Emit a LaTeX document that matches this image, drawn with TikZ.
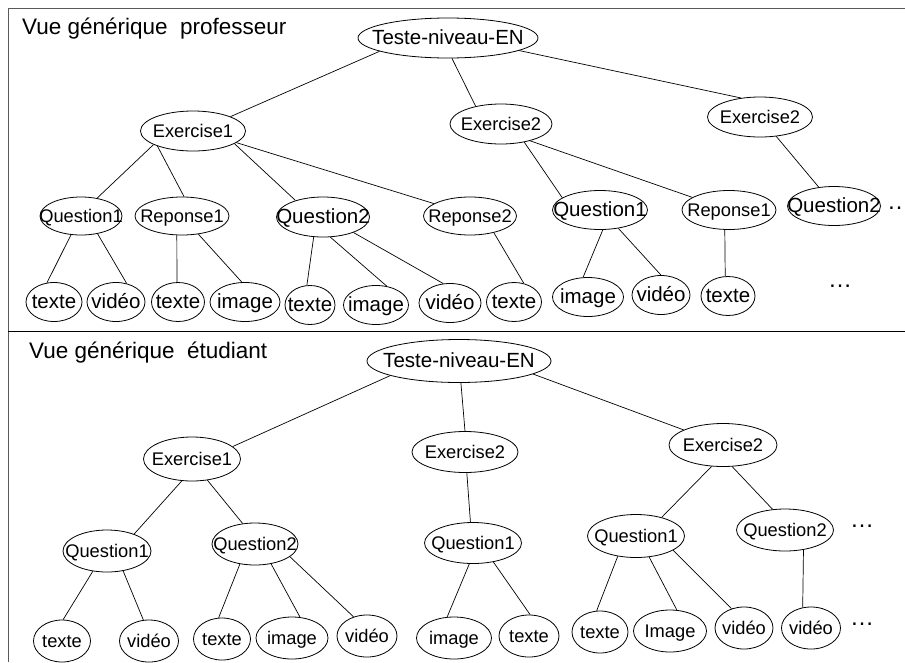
\documentclass[tikz,border=0pt]{standalone}
\usepackage{fontspec}
\setmainfont{Liberation Sans}
\usetikzlibrary{shapes.geometric}
\newcommand{\mot}[1]{\makebox[0pt]{#1}}

\begin{document}
\begin{tikzpicture}[x=1pt, y=-1pt,
    % Style pour les ellipses
    bulle/.style={
        ellipse, draw, line width=0.8pt,
        inner sep=0pt, minimum height=40,
        text height=13pt, text depth=0pt,
        font=\fontsize{18.3}{20}\selectfont
    },
    % Style pour les textes plus grands
    grand/.style={font=\fontsize{20.5}{22}\selectfont},
    % Style pour les titres des deux vues
    titre/.style={
        inner sep=0pt, anchor=base west,
        font=\fontsize{22.5}{27}\selectfont
    },
    % Style pour les points de suspension
    suite/.style={
        inner sep=0pt, anchor=base,
        font=\fontsize{24}{26}\selectfont
    },
    % Style pour les liens
    lien/.style={line width=0.7pt}
]
\useasboundingbox (0,0) rectangle (905,662);

% --- 1. Cadre ---
\draw[line width=1pt, black!65] (8,662) -- (8,8) -- (905,8);
\draw[line width=1pt] (8,331) -- (905,331);

% --- 2. Vue professeur ---
\node[titre] (tProf) at (22,34) {Vue générique~ professeur};
\node[bulle, grand, minimum width=180] (pR) at (448,38) {\mot{Teste-niveau-EN}};

\node[bulle, minimum width=105] (pE1) at (193,131) {\mot{Exercise1}};
\node[bulle, minimum width=102] (pE2) at (501,124) {\mot{Exercise2}};
\node[bulle, minimum width=105] (pE3) at (760,117) {\mot{Exercise2}};

\node[bulle, minimum width=82, minimum height=38] (pQ1) at (81,216) {\mot{Question1}};
\node[bulle, minimum width=94, minimum height=38] (pR1) at (182,216) {\mot{Reponse1}};
\node[bulle, grand, minimum width=93] (pQ2) at (323,217) {\mot{Question2}};
\node[bulle, minimum width=93, minimum height=38] (pR2) at (470,216) {\mot{Reponse2}};
\node[bulle, grand, minimum width=95, minimum height=39] (pQ3) at (600,210) {\mot{Question1}};
\node[bulle, minimum width=94, minimum height=39] (pR3) at (729,210) {\mot{Reponse1}};
\node[bulle, grand, minimum width=93, minimum height=39] (pQ4) at (834,206) {\mot{Question2}};
\node[suite] (pS1) at (899,209) {…};

% feuilles
\foreach \n/\x/\y/\w/\t in {1/54/302/56/texte, 2/116/302/58/vidéo,
    3/178/302/53/texte, 4/245/302/70/image, 5/310/305/50/texte,
    6/376/305/65/image, 7/450/303/62/vidéo, 8/514/302/55/texte,
    9/588/297/71/image, 10/661/295/58/vidéo, 11/728/296/54/texte} {
    \node[bulle, grand, minimum width=\w, minimum height=39] (pF\n) at (\x,\y) {\mot{\t}};
}
\node[suite] (pS2) at (840,287) {…};

% liens
\foreach \a/\b in {pR.191/pE1.21, pR.281/pE2.145, pR.350/pE3.135,
    pE1.199/pQ1.48, pE1.203/pR1.84, pE1.343/pQ2.149, pE1.345/pR2.161,
    pQ1.242/pF1.110, pQ1.313/pF2.60, pR1.255/pF3.93, pR1.312/pF4.99,
    pQ2.245/pF5.99, pQ2.290/pF6.60, pQ2.333/pF7.109, pR2.325/pF8.62,
    pE2.322/pQ3.162, pE2.330/pR3.161, pQ3.278/pF9.104, pQ3.315/pF10.90,
    pR3.258/pF11.98, pE3.310/pQ4.129} {
    \draw[lien] (\a) -- (\b);
}

% --- 3. Vue étudiant ---
\begin{scope}[bulle/.append style={minimum height=42}]
\node[titre] (tEtu) at (29,358) {Vue générique~ étudiant};
\node[bulle, grand, minimum width=184, minimum height=43] (eR) at (459,361) {\mot{Teste-niveau-EN}};

\node[bulle, minimum width=97, minimum height=44] (eE1) at (192,459) {\mot{Exercise1}};
\node[bulle, minimum width=106, minimum height=41] (eE2) at (465,452) {\mot{Exercise2}};
\node[bulle, minimum width=108, minimum height=43] (eE3) at (723,445) {\mot{Exercise2}};

\node[bulle, minimum width=88] (eQ1) at (107,551) {\mot{Question1}};
\node[bulle, minimum width=86] (eQ2) at (255,544) {\mot{Question2}};
\node[bulle, minimum width=97, minimum height=41] (eQ3) at (473,543) {\mot{Question1}};
\node[bulle, minimum width=97, minimum height=43] (eQ4) at (636,536) {\mot{Question1}};
\node[bulle, minimum width=97] (eQ5) at (785,530) {\mot{Question2}};
\node[suite] (eS1) at (862,527) {…};

% feuilles
\foreach \n/\x/\y/\w/\t in {1/62/641/57/texte, 2/149/641/59/vidéo,
    3/222/639/57/texte, 4/292/638/72/image, 5/367/636/60/vidéo,
    6/454/638/75/image, 7/529/636/60/texte, 8/600/632/56/texte,
    9/670/631/73/Image, 10/744/628/58/vidéo, 11/811/628/59/vidéo} {
    \node[bulle, minimum width=\w] (eF\n) at (\x,\y) {\mot{\t}};
}
\node[suite] (eS2) at (862,625) {…};
\end{scope}

% liens
\foreach \a/\b in {eR.192/eE1.17, eR.275/eE2.90, eR.350/eE3.159,
    eE1.245/eQ1.32, eE1.306/eQ2.121,
    eQ1.235/eF1.87, eQ1.309/eF2.105,
    eQ2.233/eF3.99, eQ2.309/eF4.69, eQ2.340/eF5.125,
    eE2.275/eQ3.97, eQ3.260/eF6.108, eQ3.317/eF7.87,
    eE3.242/eQ4.36, eE3.293/eQ5.121,
    eQ4.228/eF8.99, eQ4.302/eF9.72, eQ4.339/eF10.123,
    eQ5.313/eF11.112} {
    \draw[lien] (\a) -- (\b);
}

\end{tikzpicture}
\end{document}
